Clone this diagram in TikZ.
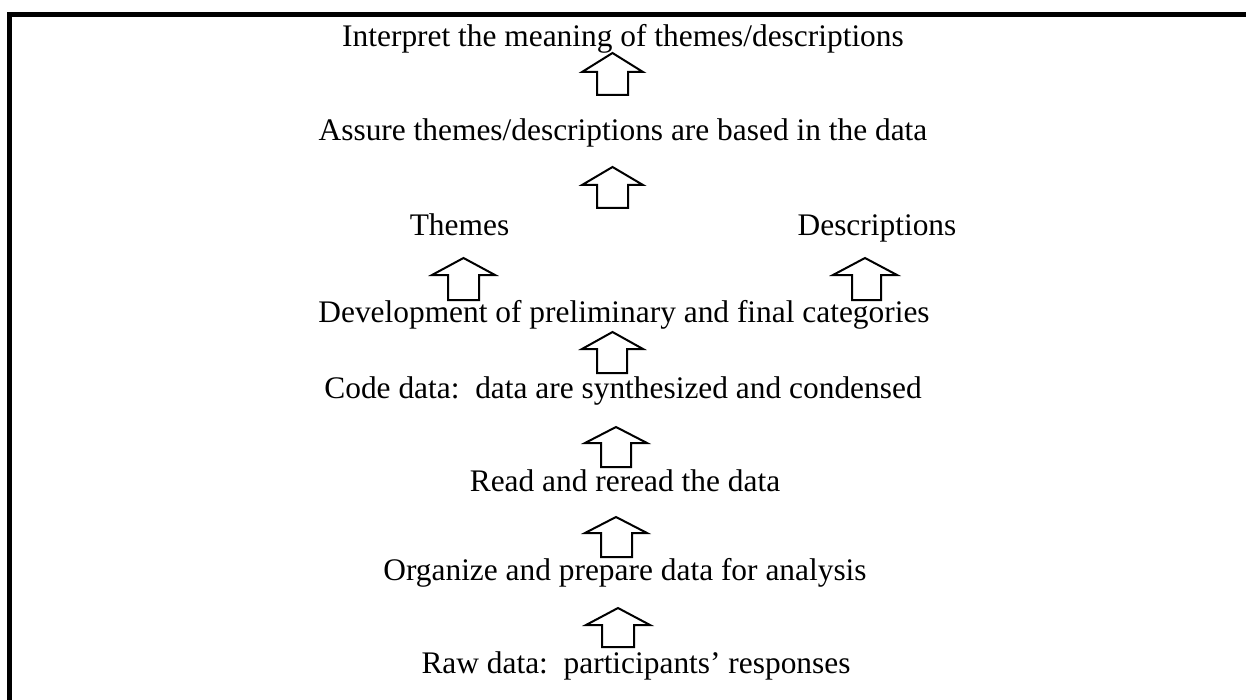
\documentclass[tikz,border=0pt]{standalone}
\usepackage{fontspec}
\setmainfont{Liberation Serif}
\frenchspacing
\tikzset{
  lbl/.style={anchor=base, inner sep=0pt, font=\fontsize{15.7}{18}\selectfont},
  blockarrow/.style={draw=black, line width=1pt, line join=miter, fill=white},
  frame/.style={draw=black, line width=2.8pt, line join=miter}
}
\newcommand\blockup[8]{% tip x, tip y, head base y, bottom y, head left, head right, stem left, stem right
  \draw[blockarrow] (#7,#4) -- (#7,#3) -- (#5,#3) -- (#1,#2) -- (#6,#3) -- (#8,#3) -- (#8,#4) -- cycle;}
\begin{document}
\begin{tikzpicture}[x=0.5pt, y=-0.5pt]
\useasboundingbox (0,0) rectangle (1246,700);
% frame (top and left edges)
\draw[frame] (9.5,706) -- (9.5,14.5) -- (1252,14.5);
% texts
\node[lbl] (t8) at (623,47) {Interpret the meaning of themes/descriptions};
\node[lbl] (t7) at (623,141) {Assure themes/descriptions are based in the data};
\node[lbl] (themes) at (459.5,235) {Themes};
\node[lbl] (descr) at (877,235) {Descriptions};
\node[lbl] (t5) at (624,322) {Development of preliminary and final categories};
\node[lbl] (t4) at (623,398) {Code data:~ data are synthesized and condensed};
\node[lbl] (t3) at (625,491) {Read and reread the data};
\node[lbl] (t2) at (625,580) {Organize and prepare data for analysis};
\node[lbl] (t1) at (636,673) {Raw data:~ participants’ responses};
% block arrows
\blockup{612.5}{53}{72}{95}{582}{643}{597}{628}
\blockup{612.5}{167}{185}{208}{582}{643}{597}{628}
\blockup{463.5}{258}{275}{300}{432}{495}{448}{479}
\blockup{865}{258}{275}{300}{833}{897}{852}{881}
\blockup{612.5}{332}{349}{373}{582}{643}{597}{627}
\blockup{616}{427}{443}{467}{585}{647}{601}{631}
\blockup{616}{517}{533}{557}{585}{647}{601}{632}
\blockup{618}{608}{625}{647}{586}{650}{602}{634}
\end{tikzpicture}
\end{document}
